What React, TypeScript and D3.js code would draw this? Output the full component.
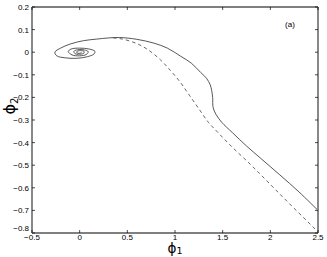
import React, {useEffect, useRef} from 'react';
import * as d3 from 'd3';

// phase-plane trajectory (phi1, phi2), solid
const solidX = [2.5, 2.3, 2.1, 1.9, 1.75, 1.6, 1.49, 1.43, 1.40, 1.395, 1.385, 1.37, 1.33, 1.27, 1.17, 1.06, 0.92, 0.78, 0.6, 0.42, 0.3, 0.18, 0.04, -0.1, -0.2, -0.26, -0.24, -0.15, -0.03, 0.08, 0.15, 0.16, 0.10, 0.0, -0.09, -0.12, -0.08, 0.0, 0.07, 0.09, 0.05, -0.02, -0.06, -0.05, 0.0, 0.045, 0.045, 0.01, -0.03, -0.025, 0.01, 0.02]
const solidY = [-0.70, -0.618, -0.543, -0.47, -0.415, -0.355, -0.31, -0.275, -0.245, -0.2, -0.17, -0.145, -0.115, -0.09, -0.048, -0.018, 0.018, 0.04, 0.057, 0.065, 0.063, 0.058, 0.051, 0.036, 0.018, 0.0, -0.016, -0.025, -0.027, -0.02, -0.008, 0.004, 0.014, 0.018, 0.014, 0.003, -0.012, -0.016, -0.01, 0.002, 0.01, 0.011, 0.004, -0.006, -0.009, -0.004, 0.004, 0.007, 0.003, -0.004, -0.004, 0.0]

// dashed trajectory
const dashX = [0.35, 0.45, 0.6, 0.72, 0.85, 0.95, 1.05, 1.15, 1.25, 1.35, 1.45, 1.6, 1.8, 2.0, 2.2, 2.5]
const dashY = [0.063, 0.058, 0.038, 0.01, -0.035, -0.08, -0.13, -0.19, -0.25, -0.31, -0.355, -0.42, -0.5, -0.585, -0.67, -0.795]

const xTicks = [-0.5, 0, 0.5, 1, 1.5, 2, 2.5]
const yTicks = [0.2, 0.1, 0, -0.1, -0.2, -0.3, -0.4, -0.5, -0.6, -0.7, -0.8]

const App = () => {
    const svgRef = useRef<SVGSVGElement>(null)

    const width = 327
    const height = 257
    const margin = {top: 7, right: 9, bottom: 24, left: 32}

    useEffect(() => {
        const svg = d3.select(svgRef.current)
        svg.selectAll('*').remove()

        const xScale = d3.scaleLinear().domain([-0.5, 2.5]).range([margin.left, width - margin.right])
        const yScale = d3.scaleLinear().domain([-0.8, 0.2]).range([height - margin.bottom, margin.top])

        const x0 = xScale(-0.5), x1 = xScale(2.5), y0 = yScale(-0.8), y1 = yScale(0.2)

        const line = d3.line<[number, number]>()
            .x(d => xScale(d[0]))
            .y(d => yScale(d[1]))
            .curve(d3.curveCatmullRom.alpha(0.5))

        const solid = solidX.map((v, i) => [v, solidY[i]] as [number, number])
        const dashed = dashX.map((v, i) => [v, dashY[i]] as [number, number])

        svg.append('path')
            .attr('d', line(dashed))
            .attr('fill', 'none')
            .attr('stroke', '#555')
            .attr('stroke-width', 0.9)
            .attr('stroke-dasharray', '3.5 3')

        svg.append('path')
            .attr('d', line(solid))
            .attr('fill', 'none')
            .attr('stroke', '#444')
            .attr('stroke-width', 0.9)

        // frame
        svg.append('line').attr('x1', x0).attr('x2', x1).attr('y1', y1).attr('y2', y1).attr('stroke', '#000').attr('stroke-width', 1)
        svg.append('line').attr('x1', x0).attr('x2', x1).attr('y1', y0).attr('y2', y0).attr('stroke', '#000').attr('stroke-width', 1)
        svg.append('line').attr('x1', x0).attr('x2', x0).attr('y1', y1).attr('y2', y0).attr('stroke', '#888').attr('stroke-width', 2)
        svg.append('line').attr('x1', x1).attr('x2', x1).attr('y1', y1).attr('y2', y0).attr('stroke', '#888').attr('stroke-width', 2)

        const tickLen = 3
        const fmt = (d: number) => String(d).replace('-', '\u2212')

        const g = svg.append('g').attr('font-family', 'Liberation Sans, Arial, sans-serif').attr('font-size', 8).attr('fill', '#000')

        xTicks.forEach(t => {
            const x = xScale(t)
            svg.append('line').attr('x1', x).attr('x2', x).attr('y1', y0).attr('y2', y0 - tickLen).attr('stroke', '#000').attr('stroke-width', 0.7)
            svg.append('line').attr('x1', x).attr('x2', x).attr('y1', y1).attr('y2', y1 + tickLen).attr('stroke', '#000').attr('stroke-width', 0.7)
            g.append('text').attr('x', x).attr('y', y0 + 6.5).attr('text-anchor', 'middle').text(fmt(t))
        })

        yTicks.forEach(t => {
            const y = yScale(t)
            svg.append('line').attr('x1', x0).attr('x2', x0 + tickLen).attr('y1', y).attr('y2', y).attr('stroke', '#000').attr('stroke-width', 0.7)
            svg.append('line').attr('x1', x1).attr('x2', x1 - tickLen).attr('y1', y).attr('y2', y).attr('stroke', '#000').attr('stroke-width', 0.7)
            g.append('text').attr('x', x0 - 3).attr('y', t === -0.8 ? y - 2 : y + 3).attr('text-anchor', 'end').text(fmt(t))
        })

        g.append('text').attr('x', 290).attr('y', 27).attr('text-anchor', 'middle').attr('font-size', 8).text('(a)')

        // axis labels
        const xl = svg.append('text')
            .attr('x', 175).attr('y', 253)
            .attr('text-anchor', 'middle')
            .attr('font-family', 'DejaVu Sans, sans-serif')
            .attr('font-size', 13.5)
        xl.append('tspan').text('\u03D5')
        xl.append('tspan').attr('font-size', 9.5).attr('dy', 1).text('1')

        const yl = svg.append('text')
            .attr('transform', `translate(15, 106) rotate(-90)`)
            .attr('text-anchor', 'middle')
            .attr('font-family', 'DejaVu Sans, sans-serif')
            .attr('font-size', 16)
        yl.append('tspan').text('\u03D5')
        yl.append('tspan').attr('font-size', 10).attr('dy', 3).text('2')
    }, [])

    return (
        <svg ref={svgRef} width={width} height={height}
             style={{position: 'absolute', left: 0, top: 0, background: '#fff'}} />
    )
}

export default App
